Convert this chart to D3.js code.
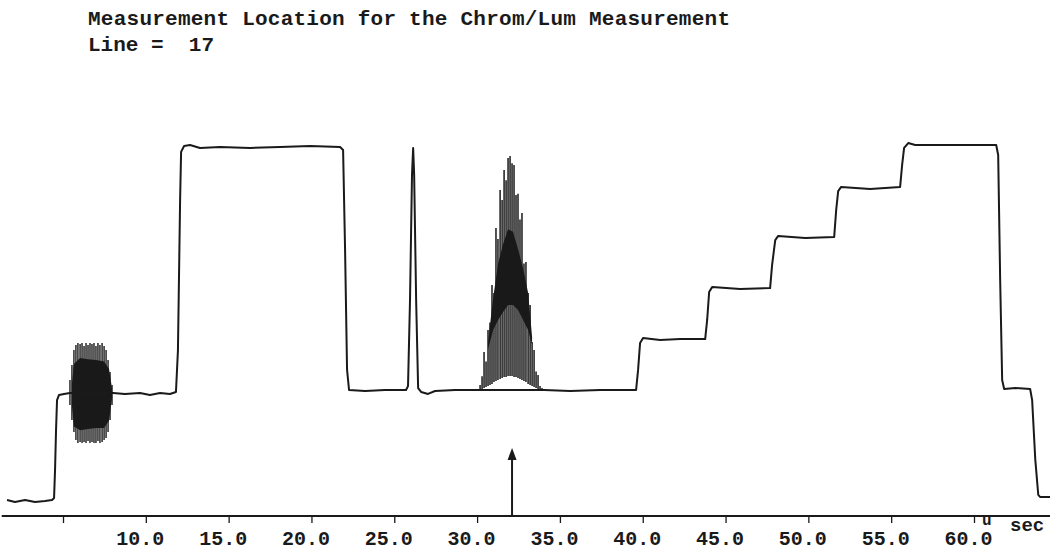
<!DOCTYPE html>
<html><head><meta charset="utf-8">
<script src="https://cdn.jsdelivr.net/npm/d3@7"></script>
<style>
html,body{margin:0;padding:0;background:#fff;}
svg{display:block;}
text{font-family:"Liberation Mono","DejaVu Sans Mono",monospace;font-weight:bold;fill:#1a1a1a;white-space:pre;}
</style></head>
<body>
<svg id="chart" width="1050" height="552"></svg>
<script>
// ---- data (time in microseconds, level in IRE) ----
const titleText = "Measurement Location for the Chrom/Lum Measurement";
const lineText = "Line =  17";
const unitText = "u sec";
const tickValues = [5, 10, 15, 20, 25, 30, 35, 40, 45, 50, 55, 60];
const tickLabels = ["", "10.0", "15.0", "20.0", "25.0", "30.0", "35.0", "40.0", "45.0", "50.0", "55.0", "60.0"];
const axisExtent = [1.3, 64.6];

// main (slow) trace
const traceT = [1.62,2.10,2.71,3.31,3.91,4.34,4.46,4.52,4.58,4.64,4.76,5.06,5.42,8.02,8.74,9.65,10.25,10.86,11.46,11.82,11.94,12.07,12.13,12.31,12.67,13.27,14.48,16.29,18.10,19.92,21.73,21.91,22.03,22.15,22.27,23.24,24.44,25.71,25.83,25.95,26.07,26.14,26.20,26.32,26.44,26.62,27.04,27.46,28.67,29.94,34.05,35.62,37.43,39.60,39.72,39.84,40.02,41.05,42.26,43.77,43.89,44.01,44.19,45.88,47.69,47.81,48.00,48.18,49.81,51.56,51.68,51.80,51.98,53.73,55.54,55.66,55.78,56.03,56.45,58.56,61.34,61.46,61.58,61.70,61.82,62.49,63.39,63.51,63.70,63.88,64.00,64.60];
const traceV = [-44.5,-45.3,-44.5,-45.3,-44.9,-44.5,-43.7,-32.2,-15.9,-3.7,-1.6,-1.2,-0.8,-0.8,-1.2,-0.8,-1.6,-0.8,-1.2,-0.4,16.7,78.0,97.6,100.0,100.4,99.2,99.6,99.2,99.6,100.0,99.6,98.4,57.6,8.6,0.4,0.0,0.4,0.4,2.0,37.1,88.2,99.2,88.2,37.1,1.2,-0.4,-1.2,0.0,0.4,0.4,0.4,0.0,0.4,0.4,8.6,19.6,21.6,20.8,21.2,21.2,29.0,40.4,42.4,41.6,42.0,51.4,61.6,63.3,62.4,62.9,73.9,81.6,83.3,82.4,83.3,92.2,99.2,101.2,100.4,100.4,100.4,96.3,45.3,4.5,0.8,1.2,0.8,-3.7,-28.0,-42.4,-43.3,-43.3];

// colour burst: individual carrier lines
const burstT = [5.42,5.54,5.66,5.78,5.90,6.03,6.15,6.27,6.39,6.51,6.63,6.75,6.87,6.99,7.11,7.23,7.36,7.48,7.60,7.72,7.84,7.96];
const burstHi = [4.5,10.6,16.7,18.8,19.6,19.2,19.6,18.4,19.6,18.8,19.6,19.2,19.6,18.4,19.6,18.8,19.6,18.4,16.7,12.7,7.8,2.4];
const burstLo = [-5.7,-11.8,-16.7,-20.0,-21.2,-20.8,-21.2,-20.8,-21.2,-20.4,-21.2,-20.8,-21.2,-21.2,-20.4,-21.2,-20.8,-20.0,-19.2,-16.7,-11.8,-5.7];
const burstCoreT = [5.54,5.66,6.03,6.51,6.99,7.48,7.78,7.96];
const burstCoreHi = [3.0,11.0,13.5,13.0,12.7,12.0,9.0,1.0];
const burstCoreLo = [-6.0,-14.5,-16.0,-15.5,-15.1,-15.1,-12.0,-3.0];

// modulated 12.5T chrominance packet
const packetT = [30.18,30.30,30.42,30.54,30.66,30.78,30.90,31.02,31.14,31.26,31.39,31.51,31.63,31.75,31.87,31.99,32.11,32.23,32.35,32.47,32.59,32.71,32.83,32.95,33.08,33.20,33.32,33.44,33.56,33.68,33.80,33.92];
const packetHi = [2.4,6.0,15.9,12.0,24.9,28.0,43.3,40.0,66.5,62.0,82.0,78.0,90.2,86.0,95.1,95.9,93.0,92.2,80.0,80.5,70.0,72.7,52.0,52.7,40.0,35.1,20.0,16.7,8.0,6.5,2.0,1.2];
const packetLo = [0.4,0.8,1.2,1.6,2.0,2.4,2.9,3.7,4.1,4.5,4.9,5.3,5.7,5.7,6.1,6.1,6.1,5.7,5.7,5.3,4.9,4.5,4.1,3.7,2.9,2.4,2.0,1.6,1.2,0.8,0.4,0.4];
const packetCoreT = [30.66,30.97,31.27,31.57,31.87,32.17,32.47,32.78,33.08,33.32];
const packetCoreHi = [20.0,38.0,52.0,60.0,66.0,65.0,58.0,50.0,40.0,22.0];
const packetCoreLo = [17.0,24.9,29.0,32.2,35.1,35.1,33.1,29.0,24.9,18.8];

// measurement marker
const markerT = 32.11;
const markerTipV = -23.3;

// ---- drawing ----
const svg = d3.select("#chart");
const ink = "#1a1a1a";
const x = d3.scaleLinear().domain([5, 60]).range([63, 974]);
const y = d3.scaleLinear().domain([0, 100]).range([391, 146]);
const axisY = 516;

// title
svg.append("text").attr("x", 88).attr("y", 25).style("font-size", "21px")
  .attr("textLength", 642).attr("lengthAdjust", "spacing").text(titleText);
svg.append("text").attr("x", 88).attr("y", 51).style("font-size", "21px").text(lineText);

// burst core + lines
const burstCore = burstCoreT.map((t, i) => ({t, hi: burstCoreHi[i], lo: burstCoreLo[i]}));
svg.append("path").datum(burstCore)
  .attr("d", d3.area().x(d => x(d.t)).y0(d => y(d.lo)).y1(d => y(d.hi)))
  .attr("fill", ink);
svg.append("g").selectAll("line").data(burstT).join("line")
  .attr("x1", d => x(d)).attr("x2", d => x(d))
  .attr("y1", (d, i) => y(burstHi[i])).attr("y2", (d, i) => y(burstLo[i]))
  .attr("stroke", ink).attr("stroke-width", 1.4);

// packet core + lines
const packetCore = packetCoreT.map((t, i) => ({t, hi: packetCoreHi[i], lo: packetCoreLo[i]}));
svg.append("path").datum(packetCore)
  .attr("d", d3.area().x(d => x(d.t)).y0(d => y(d.lo)).y1(d => y(d.hi)))
  .attr("fill", ink);
svg.append("g").selectAll("line").data(packetT).join("line")
  .attr("x1", d => x(d)).attr("x2", d => x(d))
  .attr("y1", (d, i) => y(packetHi[i])).attr("y2", (d, i) => y(packetLo[i]))
  .attr("stroke", ink).attr("stroke-width", 1.5);

// main trace
const trace = traceT.map((t, i) => [t, traceV[i]]);
svg.append("path").datum(trace)
  .attr("d", d3.line().x(d => x(d[0])).y(d => y(d[1])))
  .attr("fill", "none").attr("stroke", ink).attr("stroke-width", 2).attr("stroke-linejoin", "round");

// axis
const ax = svg.append("g").attr("transform", `translate(0,${axisY})`)
  .call(d3.axisBottom(x).tickValues(tickValues).tickSize(7).tickFormat((d, i) => tickLabels[i]));
ax.select(".domain").remove();
ax.selectAll(".tick line").attr("stroke", ink).attr("stroke-width", 1.3);
ax.selectAll(".tick text").attr("y", 29).attr("dy", 0).attr("dx", -6)
  .style("font-size", "20px").style("font-family", '"Liberation Mono", monospace').style("font-weight", "bold").attr("fill", ink);
svg.append("line").attr("x1", x(axisExtent[0])).attr("x2", x(axisExtent[1]))
  .attr("y1", axisY).attr("y2", axisY).attr("stroke", ink).attr("stroke-width", 2);
svg.append("text").attr("x", x(60) + 8).attr("y", 525).style("font-size", "16px").text(unitText.split(" ")[0]);
svg.append("text").attr("x", x(60) + 36).attr("y", 531).style("font-size", "19px").text(unitText.split(" ")[1]);

// marker arrow
const tipY = y(markerTipV);
svg.append("line").attr("x1", x(markerT)).attr("x2", x(markerT))
  .attr("y1", axisY).attr("y2", tipY + 8).attr("stroke", ink).attr("stroke-width", 2);
svg.append("path")
  .attr("d", `M${x(markerT)},${tipY} L${x(markerT) - 4.5},${tipY + 12} L${x(markerT) + 4.5},${tipY + 12} Z`)
  .attr("fill", ink);
</script>
</body></html>
